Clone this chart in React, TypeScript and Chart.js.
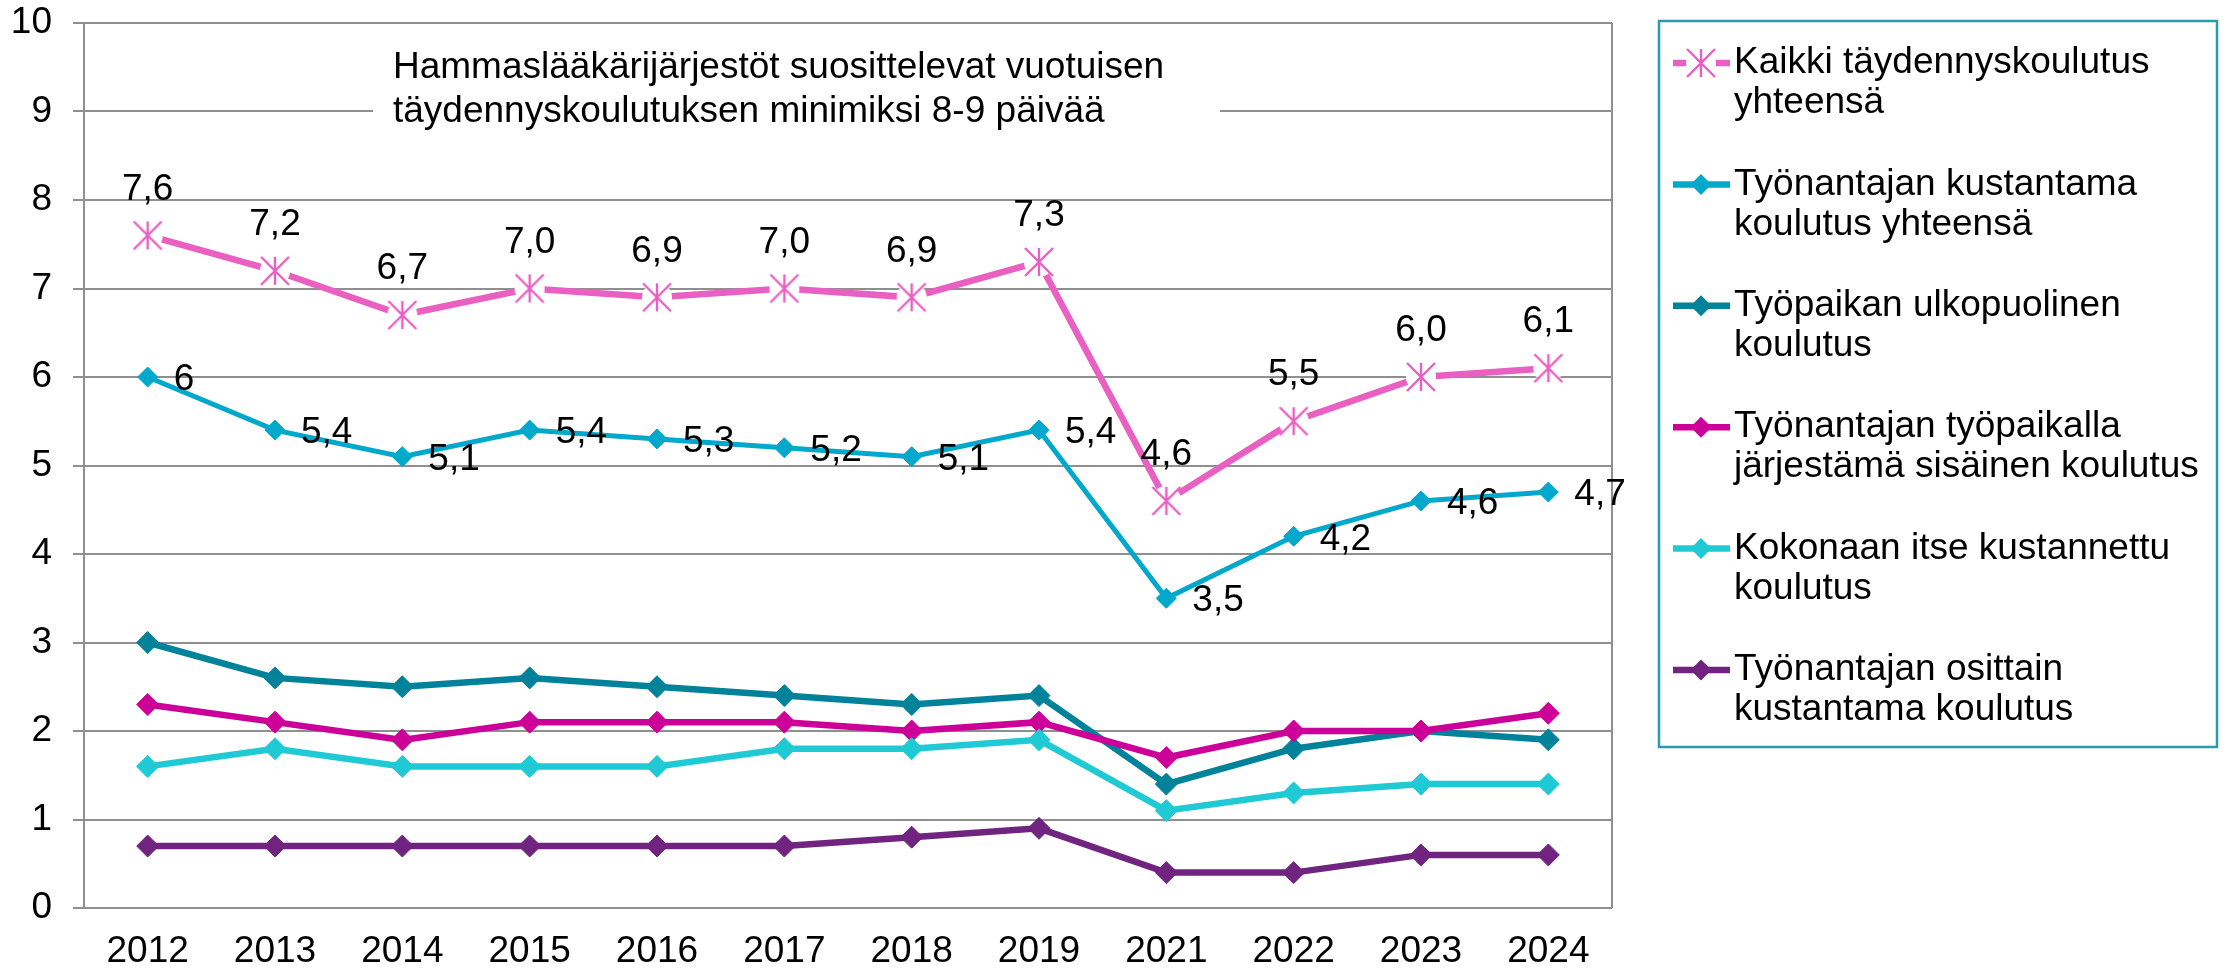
import React, { useEffect, useRef } from 'react';
import { Chart, registerables } from 'chart.js';

Chart.register(...registerables);

const years = ['2012', '2013', '2014', '2015', '2016', '2017', '2018', '2019', '2021', '2022', '2023', '2024'];
const kaikkiYhteensa = [7.6, 7.2, 6.7, 7.0, 6.9, 7.0, 6.9, 7.3, 4.6, 5.5, 6.0, 6.1];
const tyonantajanKustantama = [6, 5.4, 5.1, 5.4, 5.3, 5.2, 5.1, 5.4, 3.5, 4.2, 4.6, 4.7];
const tyopaikanUlkopuolinen = [3.0, 2.6, 2.5, 2.6, 2.5, 2.4, 2.3, 2.4, 1.4, 1.8, 2.0, 1.9];
const tyopaikallaSisainen = [2.3, 2.1, 1.9, 2.1, 2.1, 2.1, 2.0, 2.1, 1.7, 2.0, 2.0, 2.2];
const itseKustannettu = [1.6, 1.8, 1.6, 1.6, 1.6, 1.8, 1.8, 1.9, 1.1, 1.3, 1.4, 1.4];
const osittainKustantama = [0.7, 0.7, 0.7, 0.7, 0.7, 0.7, 0.8, 0.9, 0.4, 0.4, 0.6, 0.6];

const seriesValues = [
  kaikkiYhteensa,
  tyonantajanKustantama,
  tyopaikanUlkopuolinen,
  tyopaikallaSisainen,
  itseKustannettu,
  osittainKustantama,
];
const seriesNames = [
  ['Kaikki täydennyskoulutus', 'yhteensä'],
  ['Työnantajan kustantama', 'koulutus yhteensä'],
  ['Työpaikan ulkopuolinen', 'koulutus'],
  ['Työnantajan työpaikalla', 'järjestämä sisäinen koulutus'],
  ['Kokonaan itse kustannettu', 'koulutus'],
  ['Työnantajan osittain', 'kustantama koulutus'],
];
const seriesColors = ['#E960C2', '#00A8CC', '#00829B', '#CC0099', '#1FCAD5', '#70237F'];
const seriesLineWidths = [6.5, 5, 6.5, 6.5, 6.5, 6.5];
const annotationLines = [
  'Hammaslääkärijärjestöt suosittelevat vuotuisen',
  'täydennyskoulutuksen minimiksi 8-9 päivää',
];
const yMin = 0;
const yMax = 10;
const yStep = 1;

const FONT = '"Liberation Sans", Arial, sans-serif';
const FONT_SIZE = 37;
const GRID = '#8f8f8f';

function makeStar(color: string, r: number, disk: number) {
  const c = document.createElement('canvas');
  const s = Math.ceil(2 * Math.max(r, disk) + 4);
  c.width = s;
  c.height = s;
  const ctx = c.getContext('2d')!;
  const cx = s / 2;
  ctx.fillStyle = '#ffffff';
  ctx.beginPath();
  ctx.arc(cx, cx, disk, 0, Math.PI * 2);
  ctx.fill();
  ctx.strokeStyle = color;
  ctx.lineWidth = 2.4;
  ctx.beginPath();
  ctx.moveTo(cx, cx - r);
  ctx.lineTo(cx, cx + r);
  ctx.moveTo(cx - r, cx - r);
  ctx.lineTo(cx + r, cx + r);
  ctx.moveTo(cx + r, cx - r);
  ctx.lineTo(cx - r, cx + r);
  ctx.stroke();
  return c;
}

function fmt1(v: number) {
  return v.toFixed(1).replace('.', ',');
}
function fmtG(v: number) {
  return String(v).replace('.', ',');
}

export default function App() {
  const ref = useRef<HTMLCanvasElement | null>(null);

  useEffect(() => {
    const canvas = ref.current!;
    const star = makeStar(seriesColors[0], 14, 15);

    const datasets = seriesValues.map((vals, i) => ({
      label: seriesNames[i].join(' '),
      data: vals,
      borderColor: seriesColors[i],
      backgroundColor: seriesColors[i],
      borderWidth: seriesLineWidths[i],
      pointStyle: i === 0 ? (star as any) : 'rectRot',
      pointRadius: i === 0 ? 14 : i === 1 ? 10 : 11,
      pointBorderWidth: 1,
      pointBackgroundColor: seriesColors[i],
      pointBorderColor: seriesColors[i],
      tension: 0,
      order: seriesValues.length - i,
    }));

    const framePlugin = {
      id: 'frameAndNote',
      beforeDatasetsDraw(chart: any) {
        const { ctx, chartArea, scales } = chart;
        ctx.save();
        ctx.strokeStyle = GRID;
        ctx.lineWidth = 2;
        ctx.beginPath();
        ctx.moveTo(chartArea.right, chartArea.top);
        ctx.lineTo(chartArea.right, chartArea.bottom);
        ctx.stroke();
        // annotation box
        const y9 = scales.y.getPixelForValue(9);
        ctx.fillStyle = '#ffffff';
        ctx.fillRect(373, y9 - 70, 1220 - 373, 120);
        ctx.fillStyle = '#000';
        ctx.font = `${FONT_SIZE}px ${FONT}`;
        ctx.textAlign = 'left';
        ctx.textBaseline = 'middle';
        ctx.fillText(annotationLines[0], 393, y9 - 44);
        ctx.fillText(annotationLines[1], 393, y9);
        ctx.restore();
      },
      afterDatasetsDraw(chart: any) {
        const { ctx } = chart;
        ctx.save();
        ctx.fillStyle = '#000';
        ctx.font = `${FONT_SIZE}px ${FONT}`;
        const m0 = chart.getDatasetMeta(0);
        ctx.textAlign = 'center';
        ctx.textBaseline = 'middle';
        m0.data.forEach((pt: any, j: number) => {
          ctx.fillText(fmt1(kaikkiYhteensa[j]), pt.x, pt.y - 46);
        });
        const m1 = chart.getDatasetMeta(1);
        ctx.textAlign = 'left';
        m1.data.forEach((pt: any, j: number) => {
          ctx.fillText(fmtG(tyonantajanKustantama[j]), pt.x + 26, pt.y + 3);
        });
        ctx.restore();
      },
      afterDraw(chart: any) {
        const { ctx } = chart;
        ctx.save();
        ctx.strokeStyle = '#2A9BAA';
        ctx.lineWidth = 2.5;
        ctx.strokeRect(1659, 21, 2217 - 1659, 747 - 21);
        ctx.font = `${FONT_SIZE}px ${FONT}`;
        ctx.textAlign = 'left';
        ctx.textBaseline = 'middle';
        seriesNames.forEach((lines, i) => {
          const y = 63 + i * 121.4;
          const color = seriesColors[i];
          ctx.strokeStyle = color;
          ctx.lineWidth = 6.5;
          ctx.beginPath();
          ctx.moveTo(1673, y);
          ctx.lineTo(1730, y);
          ctx.stroke();
          if (i === 0) {
            ctx.drawImage(star, 1701 - star.width / 2, y - star.height / 2);
          } else {
            const r = 10.5;
            ctx.fillStyle = color;
            ctx.beginPath();
            ctx.moveTo(1701 - r, y);
            ctx.lineTo(1701, y - r);
            ctx.lineTo(1701 + r, y);
            ctx.lineTo(1701, y + r);
            ctx.closePath();
            ctx.fill();
          }
          ctx.fillStyle = '#000';
          lines.forEach((t, k) => ctx.fillText(t, 1734, y + k * 40));
        });
        ctx.restore();
      },
    };

    const chart = new Chart(canvas, {
      type: 'line',
      data: { labels: years, datasets: datasets as any },
      options: {
        responsive: false,
        animation: false,
        devicePixelRatio: 1,
        layout: { padding: { left: 0, top: 23, right: 614, bottom: 0 } },
        plugins: { legend: { display: false }, tooltip: { enabled: false } },
        scales: {
          x: {
            type: 'category',
            offset: true,
            grid: { display: false, drawTicks: false },
            border: { display: false },
            ticks: {
              color: '#000',
              font: { family: FONT, size: FONT_SIZE },
              padding: 22,
              maxRotation: 0,
              autoSkip: false,
            },
            afterFit: (s: any) => {
              s.height = 62;
              s.paddingLeft = 0;
              s.paddingRight = 0;
            },
          },
          y: {
            min: yMin,
            max: yMax,
            ticks: {
              stepSize: yStep,
              color: '#000',
              font: { family: FONT, size: FONT_SIZE },
              padding: 21,
            },
            grid: { color: GRID, lineWidth: 2, tickLength: 11, drawTicks: true },
            border: { display: true, color: GRID, width: 2 },
            afterFit: (s: any) => {
              s.width = 84;
              s.paddingTop = 0;
              s.paddingBottom = 0;
            },
          },
        },
      },
      plugins: [framePlugin],
    });
    return () => chart.destroy();
  }, []);

  return (
    <div style={{ position: 'absolute', left: 0, top: 0, width: 2226, height: 970, background: '#fff' }}>
      <canvas ref={ref} width={2226} height={970} style={{ width: 2226, height: 970, display: 'block' }} />
    </div>
  );
}
